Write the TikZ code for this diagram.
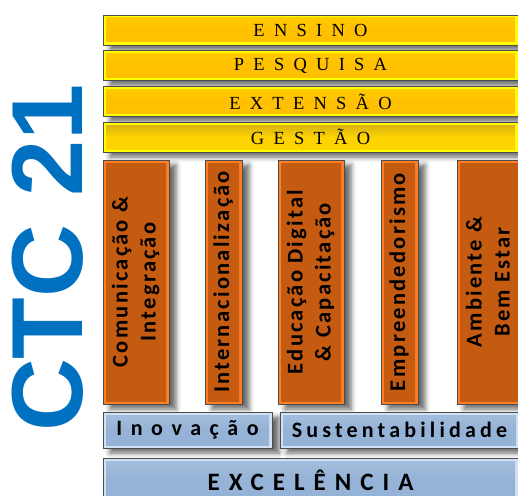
\documentclass[tikz,border=0pt]{standalone}
\usepackage{fontspec}
\usetikzlibrary{shadows.blur}
\setmainfont{Carlito}
\newfontfamily\pilarfont[LetterSpace=50]{Liberation Serif}
\newfontfamily\ctcfont{Liberation Sans}
\definecolor{amarelo}{HTML}{FFFF00}
\definecolor{ouro}{HTML}{FFC000}
\definecolor{laranjaclaro}{HTML}{FF7F27}
\definecolor{laranja}{HTML}{C55A11}
\definecolor{azulclaro}{HTML}{D2E1F4}
\definecolor{azul}{HTML}{95B3D7}
\definecolor{ctcazul}{HTML}{0070C0}
\tikzset{
    chanfro/.style 2 args={path picture={\shade[top color=#1,bottom color=#2,middle color=#2]
        ([shift={(3pt,-3pt)}]path picture bounding box.north west) rectangle
        ([shift={(-3pt,3pt)}]path picture bounding box.south east);}},
    sombra/.style={blur shadow={shadow xshift=7pt,shadow yshift=-5pt,shadow opacity=60,shadow blur radius=5pt}},
    pilar/.style={draw=black!70,line width=0.6pt,fill=amarelo,minimum width=415pt,minimum height=30pt,
        chanfro={ouro!80!amarelo}{ouro},sombra,font=\pilarfont\fontsize{18.5}{18.5}\selectfont},
    eixo/.style={draw=black!70,line width=0.6pt,fill=laranjaclaro,minimum height=244pt,inner sep=0pt,
        chanfro={laranja}{laranja},sombra,font=\bfseries\addfontfeature{LetterSpace=10}\fontsize{22.5}{28}\selectfont},
    base/.style={draw=black!70,line width=0.6pt,fill=azulclaro,minimum height=36pt,
        chanfro={azul!85!white}{azul},sombra}
}
\newcommand{\giro}[1]{\rotatebox{90}{\begin{tabular}{@{}c@{}}#1\end{tabular}}}
\begin{document}
\begin{tikzpicture}[x=1pt,y=-1pt]
    \useasboundingbox (0,0) rectangle (518,495);
    \clip (0,0) rectangle (518,495);

    \node[pilar] (ensino) at (310.5,30) {ENSINO};
    \node[pilar] (pesquisa) at (310.5,65.5) {PESQUISA};
    \node[pilar] (extensao) at (310.5,101.5) {EXTENSÃO};
    \node[pilar,chanfro={ouro!55!olive!90}{ouro!70!amarelo}] (gestao) at (310.5,137) {GESTÃO};

    \node[eixo,minimum width=66pt] (comunicacao) at (136,282) {\giro{Comunicação \&\\Integração}};
    \node[eixo,minimum width=37pt] (internacional) at (223.5,282) {\giro{Internacionalização}};
    \node[eixo,minimum width=66pt] (educacao) at (311,282) {\giro{Educação Digital\\\& Capacitação}};
    \node[eixo,minimum width=37pt] (empreendedorismo) at (399.5,282) {\giro{Empreendedorismo}};
    \node[eixo,minimum width=66pt] (ambiente) at (490,282) {\giro{Ambiente \&\\Bem Estar}};

    \node[base,minimum width=169pt,font=\bfseries\addfontfeature{LetterSpace=39}\fontsize{22}{22}\selectfont] (inovacao) at (187.5,430) {Inovação};
    \node[base,minimum width=239pt,font=\bfseries\addfontfeature{LetterSpace=19}\fontsize{22}{22}\selectfont] (sustentabilidade) at (399.5,430) {Sustentabilidade};
    \node[base,minimum width=415pt,minimum height=44pt,font=\bfseries\addfontfeature{LetterSpace=36}\fontsize{25}{25}\selectfont] (excelencia) at (310.5,480) {EXCELÊNCIA};

    \node[rotate=90,text=ctcazul,font=\ctcfont\bfseries\fontsize{101}{101}\selectfont] (ctc) at (47.5,258) {CTC 21};
\end{tikzpicture}
\end{document}
